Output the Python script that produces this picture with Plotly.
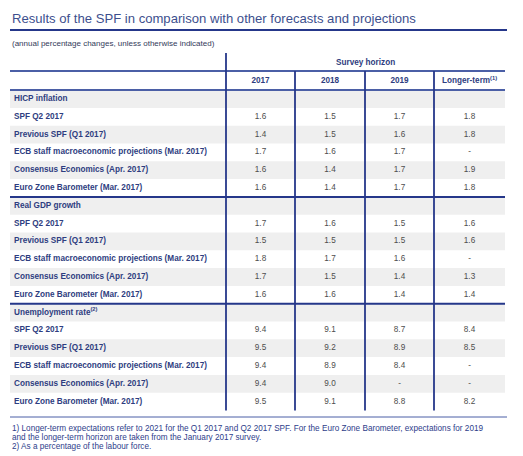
import plotly.graph_objects as go

# ---------------- data ----------------
title = "Results of the SPF in comparison with other forecasts and projections"
subtitle = "(annual percentage changes, unless otherwise indicated)"
group_header = "Survey horizon"
columns = ["2017", "2018", "2019", "Longer-term<sup>(1)</sup>"]

sections = ["HICP inflation", "Real GDP growth", "Unemployment rate<sup>(2)</sup>"]
row_labels = [
    "SPF Q2 2017",
    "Previous SPF (Q1 2017)",
    "ECB staff macroeconomic projections (Mar. 2017)",
    "Consensus Economics (Apr. 2017)",
    "Euro Zone Barometer (Mar. 2017)",
]

hicp = [
    ["1.6", "1.5", "1.7", "1.8"],
    ["1.4", "1.5", "1.6", "1.8"],
    ["1.7", "1.6", "1.7", "-"],
    ["1.6", "1.4", "1.7", "1.9"],
    ["1.6", "1.4", "1.7", "1.8"],
]
gdp = [
    ["1.7", "1.6", "1.5", "1.6"],
    ["1.5", "1.5", "1.5", "1.6"],
    ["1.8", "1.7", "1.6", "-"],
    ["1.7", "1.5", "1.4", "1.3"],
    ["1.6", "1.6", "1.4", "1.4"],
]
unemployment = [
    ["9.4", "9.1", "8.7", "8.4"],
    ["9.5", "9.2", "8.9", "8.5"],
    ["9.4", "8.9", "8.4", "-"],
    ["9.4", "9.0", "-", "-"],
    ["9.5", "9.1", "8.8", "8.2"],
]
section_values = [hicp, gdp, unemployment]

footnotes = [
    "1) Longer-term expectations refer to 2021 for the Q1 2017 and Q2 2017 SPF. For the Euro Zone Barometer, expectations for 2019",
    "and the longer-term horizon are taken from the January 2017 survey.",
    "2) As a percentage of the labour force.",
]

# ---------------- layout geometry ----------------
W, H = 523, 456
OFF = 8  # page body margin compensation
FONT = "Liberation Sans, Arial, sans-serif"
NAVY = "#25378a"
BLUE_LINE = "#4b5fa6"
LABEL_C = "#2e3d80"
NUM_C = "#4d4d4d"
GRAY = "#efefef"
FS = 8.2

left, right = 10, 505
col_edges = [226, 295, 365, 434, 505]
col_centers = [(col_edges[i] + col_edges[i + 1]) / 2 for i in range(4)]
row0 = 99.0
rh = 17.8
header_y = 81

fig = go.Figure()
shapes = []

label_x, label_y, label_t = [], [], []
num_x, num_y, num_t = [], [], []

gi = 0
for s, sec in enumerate(sections):
    yc = row0 + rh * gi
    shapes.append(dict(type="rect", x0=left, x1=right, y0=yc - rh / 2, y1=yc + rh / 2,
                       fillcolor=GRAY, line=dict(width=0), layer="below"))
    label_x.append(14); label_y.append(yc); label_t.append("<b>" + sec + "</b>")
    gi += 1
    for r, lab in enumerate(row_labels):
        yc = row0 + rh * gi
        if r % 2 == 1:
            shapes.append(dict(type="rect", x0=left, x1=right, y0=yc - rh / 2, y1=yc + rh / 2,
                               fillcolor=GRAY, line=dict(width=0), layer="below"))
        label_x.append(14); label_y.append(yc); label_t.append("<b>" + lab + "</b>")
        for c, v in enumerate(section_values[s][r]):
            num_x.append(col_centers[c]); num_y.append(yc); num_t.append(v)
        gi += 1
    if s < len(sections) - 1:
        ysep = row0 + rh * (gi - 0.5)
        shapes.append(dict(type="line", x0=left, x1=right, y0=ysep, y1=ysep,
                           line=dict(color=NAVY, width=2)))

table_bottom = row0 + rh * (gi - 0.5)

fig.add_trace(go.Scatter(x=label_x, y=label_y, text=label_t, mode="text",
                         textposition="middle right",
                         textfont=dict(family=FONT, size=FS, color=LABEL_C),
                         hoverinfo="skip", showlegend=False))
fig.add_trace(go.Scatter(x=num_x, y=num_y, text=num_t, mode="text",
                         textposition="middle center",
                         textfont=dict(family=FONT, size=FS, color=NUM_C),
                         hoverinfo="skip", showlegend=False))
fig.add_trace(go.Scatter(x=col_centers, y=[header_y] * 4,
                         text=["<b>" + c + "</b>" for c in columns], mode="text",
                         textposition="middle center",
                         textfont=dict(family=FONT, size=FS, color=LABEL_C),
                         hoverinfo="skip", showlegend=False))

annotations = [
    dict(x=10, y=18, text=title, showarrow=False, xanchor="left", yanchor="middle",
         font=dict(family=FONT, size=13.1, color="#3d4f8e")),
    dict(x=10, y=43, text=subtitle, showarrow=False, xanchor="left", yanchor="middle",
         font=dict(family=FONT, size=8, color="#333a5a")),
    dict(x=(col_edges[0] + col_edges[-1]) / 2, y=62, text="<b>" + group_header + "</b>",
         showarrow=False, xanchor="center", yanchor="middle",
         font=dict(family=FONT, size=FS, color=LABEL_C)),
]
for i, fn in enumerate(footnotes):
    annotations.append(dict(x=10, y=428 + 9 * i, text=fn, showarrow=False,
                            xanchor="left", yanchor="middle",
                            font=dict(family=FONT, size=8.2, color="#2e3d8a")))

shapes += [
    dict(type="line", x0=10, x1=507, y0=30, y1=30, line=dict(color=NAVY, width=2.2)),
    dict(type="line", x0=left, x1=right, y0=71, y1=71, line=dict(color=BLUE_LINE, width=2)),
    dict(type="line", x0=left, x1=right, y0=row0 - rh / 2, y1=row0 - rh / 2,
         line=dict(color=BLUE_LINE, width=2)),
    dict(type="line", x0=col_edges[0], x1=col_edges[0], y0=53, y1=table_bottom,
         line=dict(color=NAVY, width=1.8)),
    dict(type="line", x0=10, x1=507, y0=417, y1=417, line=dict(color=BLUE_LINE, width=1)),
]
for xe in col_edges[1:4]:
    shapes.append(dict(type="line", x0=xe, x1=xe, y0=71, y1=table_bottom,
                       line=dict(color=NAVY, width=1.8)))

fig.update_layout(
    width=W - OFF, height=H - OFF,
    margin=dict(l=0, r=0, t=0, b=0),
    paper_bgcolor="white", plot_bgcolor="white",
    xaxis=dict(range=[OFF, W], visible=False, fixedrange=True),
    yaxis=dict(range=[H, OFF], visible=False, fixedrange=True),
    shapes=shapes, annotations=annotations,
)

fig.write_html("out.html")
